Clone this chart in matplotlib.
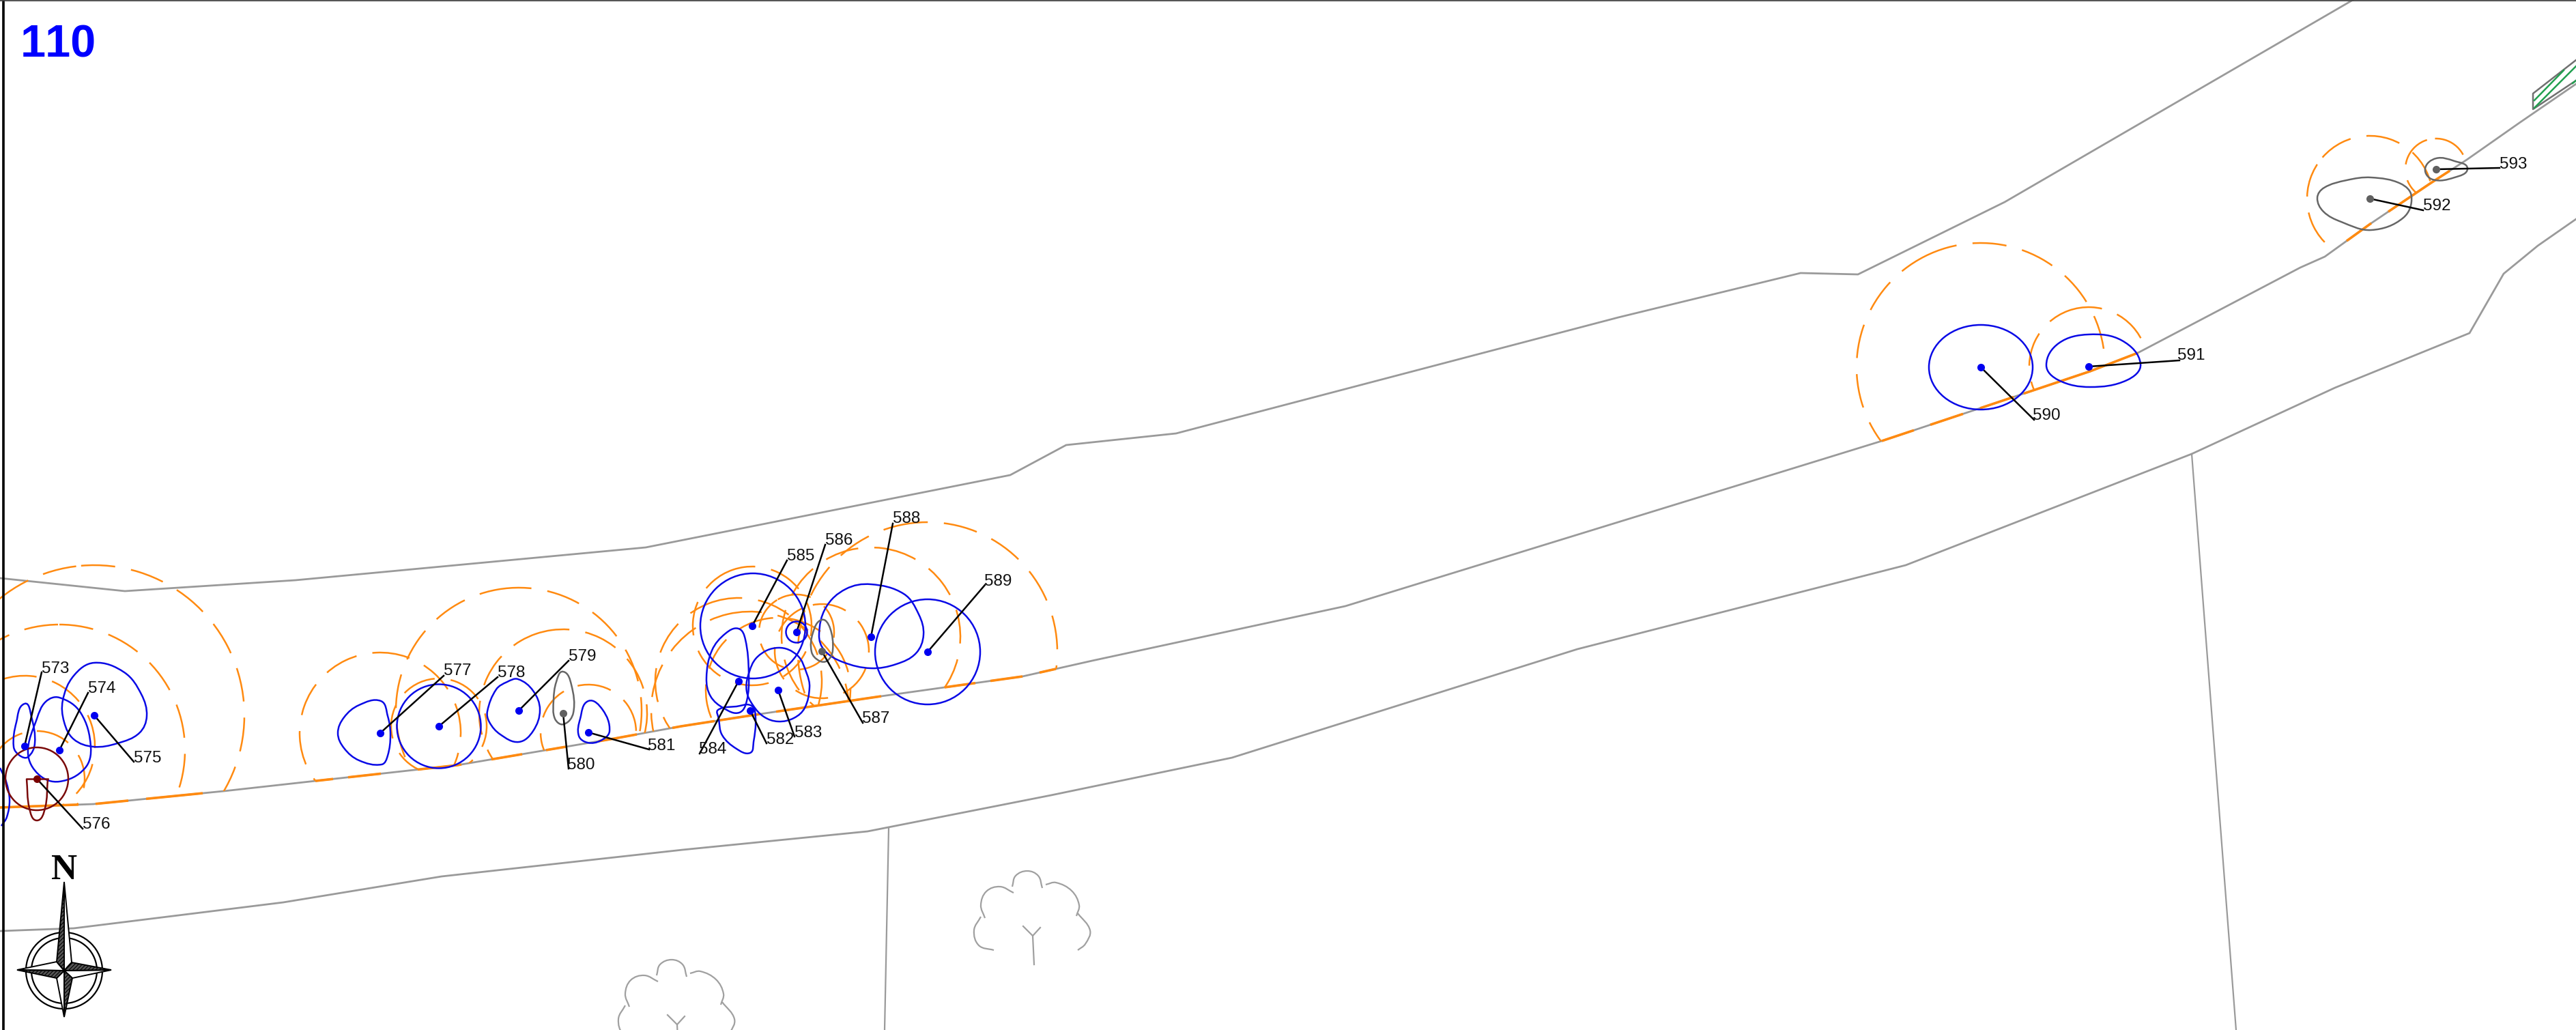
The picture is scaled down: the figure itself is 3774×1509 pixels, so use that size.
import numpy as np
import matplotlib
matplotlib.use("Agg")
import matplotlib.pyplot as plt
from matplotlib.path import Path
from matplotlib.patches import Arc, Circle, Ellipse, PathPatch, Polygon

plt.rcParams["lines.scale_dashes"] = False
plt.rcParams["path.simplify"] = False
plt.rcParams["hatch.linewidth"] = 0.8
plt.rcParams["text.kerning_factor"] = 6

top_road = [(0, 847), (183, 866), (433, 850), (946, 802), (1480, 696), (1562, 652), (1723, 635),
            (2371, 465), (2638, 400), (2722, 402), (2937, 296), (3447, 0)]
mid_road = [(0, 1183), (137, 1178), (328, 1159), (670, 1121), (900, 1082), (998, 1064), (1114, 1046),
            (1291, 1020), (1498, 991), (1600, 968), (1971, 888), (2650, 679), (2757, 646), (2901, 598),
            (3062, 544), (3132, 517), (3370, 392), (3406, 376), (3474, 327), (3560, 269), (3614, 234),
            (3691, 180), (3774, 123)]
low_road = [(0, 1364), (108, 1360), (415, 1322), (647, 1284), (1000, 1245), (1271, 1218), (1540, 1165),
            (1805, 1110), (2311, 951), (2792, 828), (3211, 665), (3421, 568), (3618, 488), (3668, 401),
            (3718, 360), (3774, 321)]
side_road_a = [(1302, 1213), (1296, 1509)]
side_road_b = [(3211, 665), (3276, 1509)]

# parts of the middle road that are drawn orange
orange_spans = [(0, 115), (140, 188), (214, 297), (462, 488), (510, 558), (612, 676), (720, 765), (800, 829),
                (877, 933), (985, 1047), (1054, 1114), (1137, 1291), (1384, 1429), (1451, 1498), (1523, 1547),
                (2757, 2804), (2828, 2876), (2901, 2950), (2965, 3132), (3438, 3474), (3499, 3589)]

labels = ["573", "574", "575", "576", "577", "578", "579", "580", "581", "582", "583",
          "584", "585", "586", "587", "588", "589", "590", "591", "592", "593"]
dots = [(36, 1093), (87, 1099), (138, 1048), (54, 1141), (557, 1074), (643, 1064), (760, 1041), (825, 1045),
        (862, 1073), (1099, 1041), (1140, 1011), (1082, 998), (1102, 917), (1167, 926), (1204, 954),
        (1276, 933), (1359, 955), (2902, 538), (3060, 537), (3472, 291), (3569, 248)]
leader_ends = [(61, 985), (129, 1015), (196, 1116), (121, 1214), (650, 990), (729, 992), (833, 968), (833, 1126),
               (951, 1098), (1123, 1089), (1164, 1079), (1025, 1104), (1153, 821), (1209, 798), (1264, 1059),
               (1308, 767), (1443, 857), (2980, 615), (3193, 528), (3550, 308), (3662, 246)]
label_pos = [(81, 980), (149, 1009), (216, 1111), (141, 1208), (670, 983), (749, 986), (853, 962), (851, 1121),
             (969, 1093), (1143, 1084), (1184, 1074), (1044, 1098), (1173, 815), (1229, 792), (1283, 1053),
             (1328, 760), (1462, 852), (2998, 609), (3210, 521), (3570, 302), (3682, 241)]
dot_colors = ["blue", "blue", "blue", "red", "blue", "blue", "blue", "gray", "blue", "blue", "blue",
              "blue", "blue", "blue", "gray", "blue", "blue", "blue", "blue", "gray", "gray"]

# dashed circle of each tree, same order as labels: radius and the angle where a dash starts
dash_radius = [103, 184, 220, 70, 118, 70, 180, 123, 70, 145, 106, 122, 87, 55, 69, 131, 190, 182, 87, 92, 45]
dash_start = [252, 270, 265, 270, 267, 224, 260, 251, 257, 257, 239, 249, 240, 240, 259, 278, 255, 243, 250, 221, 268]

shape_573 = [(36, 1031), (46, 1050), (51, 1089), (41, 1109), (29, 1107), (20, 1094), (24, 1058)]
shape_574 = [(87, 1022), (118, 1044), (133, 1094), (124, 1126), (87, 1145), (57, 1135), (41, 1103), (54, 1053), (67, 1028)]
shape_575 = [(138, 971), (182, 985), (207, 1017), (215, 1049), (204, 1074), (172, 1089), (137, 1094), (108, 1083), (94, 1058), (92, 1026), (108, 990)]
shape_577 = [(558, 1027), (568, 1049), (572, 1076), (568, 1107), (559, 1120), (526, 1114), (504, 1096), (495, 1074), (504, 1051), (526, 1033)]
shape_579 = [(759, 995), (781, 1012), (791, 1040), (781, 1071), (760, 1087), (733, 1076), (717, 1058), (714, 1042), (727, 1010), (743, 999)]
shape_580 = [(825, 984), (837, 1003), (840, 1044), (826, 1061), (813, 1053), (811, 1026), (815, 999)]
shape_581 = [(862, 1027), (883, 1040), (893, 1071), (880, 1085), (861, 1088), (848, 1078), (850, 1053)]
shape_582 = [(1052, 1040), (1079, 1035), (1101, 1034), (1107, 1053), (1104, 1087), (1099, 1103), (1079, 1097), (1058, 1077), (1053, 1053)]
shape_583 = [(1140, 949), (1168, 960), (1182, 987), (1186, 1007), (1179, 1037), (1163, 1052), (1140, 1057), (1119, 1050), (1103, 1033), (1094, 1013), (1096, 990), (1110, 962)]
shape_584 = [(1082, 921), (1092, 937), (1097, 987), (1094, 1027), (1083, 1044), (1061, 1038), (1041, 1020), (1035, 993), (1043, 953), (1063, 928)]
shape_587 = [(1204, 908), (1216, 920), (1220, 953), (1212, 968), (1200, 968), (1189, 955), (1191, 927)]
shape_588 = [(1276, 856), (1324, 870), (1346, 900), (1353, 930), (1342, 957), (1313, 973), (1276, 979), (1235, 970), (1208, 953), (1200, 930), (1210, 890), (1239, 863)]
shape_591 = [(3060, 490), (3109, 499), (3136, 533), (3116, 557), (3062, 567), (3016, 557), (2998, 535), (3016, 503)]
shape_592 = [(3474, 260), (3517, 269), (3533, 288), (3521, 319), (3474, 337), (3430, 325), (3404, 310), (3395, 290), (3405, 275), (3438, 264)]
shape_593 = [(3569, 232), (3596, 236), (3615, 247), (3596, 260), (3564, 263), (3553, 247)]
shape_576b = [(39, 1141), (70, 1141), (66, 1184), (54, 1202), (43, 1184)]
edge_blue = [(0, 1125), (9, 1145), (14, 1172), (10, 1197), (2, 1210)]

blue_shapes = [shape_573, shape_574, shape_575, shape_577, shape_579, shape_581, shape_582,
               shape_583, shape_584, shape_588, shape_591]
gray_shapes = [shape_580, shape_587, shape_592, shape_593]
# x, y, width, height
blue_rounds = [(643, 1064, 123, 123), (1103, 917, 154, 154), (1167, 926, 31, 31), (1359, 955, 154, 154), (2902, 538, 152, 124)]

tree_positions = [(1513, 1371), (992, 1501)]
tree_lobes = [[(-30, -72), (-25, -88), (-8, -95), (8, -88), (14, -70)],
              [(-28, -63), (-48, -72), (-68, -65), (-76, -45), (-70, -26)],
              [(19, -75), (34, -78), (57, -66), (68, -45), (64, -29)],
              [(-76, -28), (-86, -8), (-79, 14), (-57, 21)],
              [(66, -33), (84, -8), (77, 12), (66, 21)]]
tree_branch = [(-14, -14), (0, 0), (11, -12)]
tree_trunk = [(0, 0), (2, 42)]

box_outline = [(3774, 88), (3711, 137), (3711, 160), (3774, 118)]
green_a = [(3713, 147), (3756, 103)]
green_b = [(3713, 158), (3774, 97)]
green_c = [(3769, 122), (3774, 118)]

compass_center = (94, 1422)
compass_radii = [56, 48]
compass_tips = {"N": (94, 1292), "E": (163, 1421), "S": (94, 1490), "W": (25, 1421)}
compass_corners = {"NW": (83, 1409), "NE": (105, 1410), "SE": (106, 1433), "SW": (83, 1433)}

ROAD_GRAY = "#9a9a9a"
ORANGE = "#ff8a10"
BLUE = "#0a0ae6"
DARK_RED = "#7a0a0a"
DARK_GRAY = "#666666"
dot_color_map = {"blue": "#0000f0", "gray": "#606060", "red": "#7a0000"}


def smooth_path(pts, closed=True):
    # smooth curve through the points, handles scaled to each segment so uneven spacing stays round
    pts = np.array(pts, dtype=float)
    n = len(pts)
    tangents = []
    for i in range(n):
        if closed:
            d = pts[(i + 1) % n] - pts[(i - 1) % n]
        else:
            d = pts[min(i + 1, n - 1)] - pts[max(i - 1, 0)]
        tangents.append(d / np.linalg.norm(d))
    verts = [pts[0]]
    codes = [Path.MOVETO]
    for i in range(n if closed else n - 1):
        j = (i + 1) % n
        seg = np.linalg.norm(pts[j] - pts[i])
        verts += [pts[i] + tangents[i] * seg * 0.36, pts[j] - tangents[j] * seg * 0.36, pts[j]]
        codes += [Path.CURVE4] * 3
    return Path(verts, codes)


def xy(pts):
    a = np.array(pts, dtype=float)
    return a[:, 0], a[:, 1]


fig = plt.figure(figsize=(37.74, 15.09), dpi=100)
ax = fig.add_axes([0, 0, 1, 1])
ax.set_xlim(0, 3774)
ax.set_ylim(1509, 0)
ax.axis("off")

# frame
ax.plot([4.5, 4.5], [0, 1509], color="black", lw=2.6, zorder=6)
ax.plot([0, 3774], [0.8, 0.8], color="#444444", lw=1.3, zorder=6)

# roads
for line in [top_road, mid_road, low_road]:
    x, y = xy(line)
    ax.plot(x, y, color=ROAD_GRAY, lw=2.0, zorder=2, solid_joinstyle="miter")
for line in [side_road_a, side_road_b]:
    x, y = xy(line)
    ax.plot(x, y, color=ROAD_GRAY, lw=1.6, zorder=2)

# orange pieces sit on the middle road, following its own vertices
road_x, road_y = xy(mid_road)
for a, b in orange_spans:
    inner = road_x[(road_x > a) & (road_x < b)]
    sx = np.concatenate([[a], inner, [b]])
    ax.plot(sx, np.interp(sx, road_x, road_y), color=ORANGE, lw=2.6, zorder=3, solid_capstyle="butt")

# dashed crown circles stop at the road
clip_above = Polygon(list(mid_road) + [(3774, 0), (0, 0)], closed=True, transform=ax.transData)
for (cx, cy), r, start in zip(dots, dash_radius, dash_start):
    arc = Arc((cx, cy), 2 * r, 2 * r, theta1=start, theta2=start + 360, color=ORANGE, lw=1.8,
              linestyle=(0, (36, 17)), zorder=3)
    ax.add_patch(arc)
    arc.set_clip_path(clip_above)

# crown outlines
for pts in blue_shapes:
    ax.add_patch(PathPatch(smooth_path(pts), fc="none", ec=BLUE, lw=1.8, zorder=4))
for pts in gray_shapes:
    ax.add_patch(PathPatch(smooth_path(pts), fc="none", ec=DARK_GRAY, lw=1.8, zorder=4))
for cx, cy, w, h in blue_rounds:
    ax.add_patch(Ellipse((cx, cy), w, h, fc="none", ec=BLUE, lw=1.8, zorder=4))
ax.add_patch(PathPatch(smooth_path(edge_blue, closed=False), fc="none", ec=BLUE, lw=1.8, zorder=4))
ax.add_patch(Circle((54, 1141), 46, fc="none", ec=DARK_RED, lw=1.8, zorder=4))
# 576 trunk shape has a flat top
x, y = xy(shape_576b)
ax.plot(x[:2], y[:2], color=DARK_RED, lw=1.8, zorder=4)
ax.add_patch(PathPatch(smooth_path(shape_576b[1:] + shape_576b[:1], closed=False), fc="none", ec=DARK_RED, lw=1.8, zorder=4))

# leaders, dots, numbers
for i, name in enumerate(labels):
    ax.plot([dots[i][0], leader_ends[i][0]], [dots[i][1], leader_ends[i][1]], color="black", lw=1.8, zorder=5)
    ax.plot(dots[i][0], dots[i][1], "o", color=dot_color_map[dot_colors[i]], ms=8, mew=0, zorder=6)
    ax.text(label_pos[i][0], label_pos[i][1], name, fontsize=17.5, family="Liberation Sans",
            ha="center", va="center", color="#111111", zorder=7)

# trees
for tx, ty in tree_positions:
    for lobe in tree_lobes:
        moved = [(tx + dx, ty + dy) for dx, dy in lobe]
        ax.add_patch(PathPatch(smooth_path(moved, closed=False), fc="none", ec="#a0a0a0", lw=1.6, zorder=2))
    for part in [tree_branch, tree_trunk]:
        x, y = xy(part)
        ax.plot(x + tx, y + ty, color="#a0a0a0", lw=1.6, zorder=2)

# box at the top right
x, y = xy(box_outline)
ax.plot(x, y, color="#707070", lw=1.8, zorder=3)
for part in [green_a, green_b, green_c]:
    x, y = xy(part)
    ax.plot(x, y, color="#22a050", lw=1.8, zorder=3)

# title
ax.text(30, 83, "110", fontsize=48, family="Liberation Sans", fontweight="bold", color="#0000ff",
        ha="left", va="baseline", zorder=7)

# north arrow
for r in compass_radii:
    ax.add_patch(Circle(compass_center, r, fc="none", ec="black", lw=1.6, zorder=7))
c = compass_center
dark = [("N", "NW"), ("E", "NE"), ("S", "SE"), ("W", "SW")]
light = [("N", "NE"), ("E", "SE"), ("S", "SW"), ("W", "NW")]
for tip, corner in light:
    ax.add_patch(Polygon([compass_tips[tip], compass_corners[corner], c], closed=True, fc="white", ec="black", lw=1.4, zorder=8))
for tip, corner in dark:
    ax.add_patch(Polygon([compass_tips[tip], compass_corners[corner], c], closed=True, fc="#555555", ec="black", lw=1.4,
                         hatch="//////", zorder=8))
ax.text(94, 1288, "N", fontsize=38, family="Liberation Serif", fontweight="bold", color="black",
        ha="center", va="baseline", zorder=8)

fig.savefig("out.png", dpi=100, facecolor="white")
